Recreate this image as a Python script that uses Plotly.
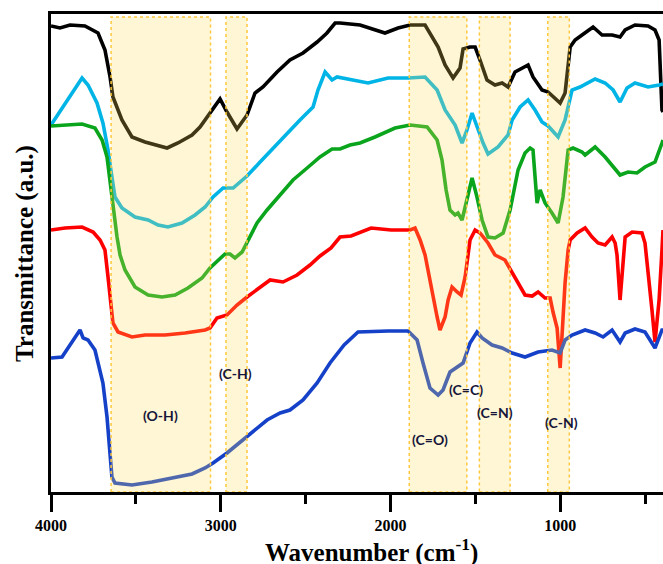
import plotly.graph_objects as go

# ---- data (wavenumber in cm-1, transmittance in arbitrary units) ----
black_wn = [4000, 3947, 3888, 3800, 3723, 3682, 3652, 3635, 3582, 3523, 3446, 3387, 3316, 3252, 3169, 3122,
            3063, 3004, 2963, 2904, 2845, 2798, 2751, 2668, 2592, 2515, 2432, 2374, 2326, 2297, 2179, 2032,
            1955, 1884, 1796, 1719, 1678, 1631, 1590, 1572, 1531, 1501, 1472, 1431, 1384, 1342, 1307, 1266,
            1189, 1160, 1107, 1071, 1000, 971, 941, 912, 871, 806, 753, 694, 647, 617, 559, 482, 441, 417,
            400, 394]
black_t = [466, 464, 467, 466, 459, 442, 415, 395, 372, 355, 350, 347, 344, 349, 357, 365,
           379, 393, 380, 363, 377, 399, 405, 420, 432, 439, 450, 459, 469, 469, 467, 459,
           464, 467, 467, 445, 427, 414, 424, 443, 445, 445, 432, 412, 407, 409, 405, 420,
           427, 415, 402, 400, 389, 399, 445, 452, 457, 465, 457, 457, 455, 462, 467, 466, 462, 452,
           382, 380]

cyan_wn = [4000, 3917, 3870, 3817, 3782, 3729, 3694, 3664, 3641, 3623, 3582, 3505, 3428, 3369, 3311, 3228,
           3151, 3092, 3045, 2986, 2927, 2845, 2768, 2692, 2609, 2533, 2456, 2427, 2385, 2344, 2315, 2256,
           2179, 2132, 2014, 1896, 1796, 1725, 1678, 1619, 1578, 1549, 1519, 1490, 1454, 1425, 1366, 1307,
           1283, 1236, 1189, 1148, 1107, 1071, 1012, 971, 930, 883, 794, 735, 688, 647, 606, 559, 482, 417, 394]
cyan_t = [367, 389, 400, 414, 407, 389, 369, 342, 315, 295, 284, 275, 272, 267, 265, 269,
          277, 285, 295, 304, 304, 316, 330, 344, 359, 372, 385, 402, 420, 412, 415, 413,
          411, 409, 414, 414, 415, 402, 382, 367, 349, 362, 379, 365, 349, 338, 345, 357,
          372, 385, 392, 382, 370, 366, 355, 372, 402, 405, 413, 409, 402, 390, 404, 409, 405, 407, 408]

green_wn = [4000, 3917, 3817, 3741, 3699, 3670, 3652, 3635, 3611, 3593, 3564, 3505, 3428, 3346, 3269, 3193,
            3110, 3063, 2975, 2945, 2916, 2874, 2845, 2786, 2727, 2650, 2574, 2491, 2415, 2344, 2297, 2238,
            2179, 2091, 1973, 1884, 1784, 1725, 1696, 1672, 1649, 1619, 1602, 1578, 1549, 1519, 1490, 1460,
            1425, 1384, 1336, 1295, 1283, 1248, 1207, 1177, 1160, 1136, 1118, 1089, 1048, 1012, 983, 953,
            924, 871, 853, 794, 735, 694, 647, 600, 547, 500, 441, 400, 394]
green_t = [366, 367, 368, 364, 352, 335, 309, 282, 255, 237, 222, 205, 197, 195, 197, 204,
           214, 224, 238, 238, 234, 240, 249, 269, 282, 297, 312, 324, 335, 343, 343, 347,
           349, 355, 364, 367, 365, 352, 332, 302, 282, 277, 279, 272, 292, 314, 295, 272,
           255, 254, 259, 282, 292, 322, 339, 344, 342, 289, 302, 289, 279, 269, 295, 342,
           344, 340, 337, 345, 335, 327, 317, 320, 319, 325, 330, 349, 352]

red_wn = [4000, 3917, 3817, 3752, 3711, 3682, 3664, 3646, 3635, 3605, 3523, 3446, 3328, 3210, 3092, 3063,
          3022, 2963, 2904, 2845, 2786, 2709, 2633, 2550, 2474, 2415, 2350, 2297, 2232, 2114, 1996, 1884,
          1855, 1825, 1796, 1755, 1725, 1708, 1678, 1660, 1637, 1607, 1584, 1560, 1531, 1501, 1472, 1425,
          1384, 1325, 1283, 1248, 1207, 1165, 1130, 1089, 1059, 1042, 1018, 1000, 989, 971, 953, 941,
          900, 853, 812, 777, 735, 694, 676, 665, 647, 629, 617, 576, 518, 500, 482, 459, 441, 417, 400, 394]
red_t = [262, 264, 265, 260, 252, 242, 215, 189, 169, 160, 155, 157, 157, 159, 162, 164,
         174, 177, 187, 195, 202, 212, 210, 217, 227, 236, 244, 255, 256, 264, 262, 262,
         264, 252, 237, 199, 175, 162, 175, 192, 205, 200, 197, 215, 252, 262, 259, 249,
         237, 232, 220, 209, 197, 196, 200, 194, 194, 180, 164, 124, 159, 209, 242, 252,
         259, 264, 255, 249, 247, 255, 249, 237, 192, 232, 255, 260, 259, 249, 222, 182, 150, 192, 242, 262]

blue_wn = [4000, 3935, 3888, 3847, 3829, 3811, 3782, 3741, 3723, 3694, 3670, 3652, 3641, 3623, 3523, 3405,
           3287, 3169, 3092, 3045, 2963, 2845, 2727, 2650, 2592, 2515, 2432, 2356, 2273, 2191, 2097, 2014,
           1896, 1843, 1808, 1767, 1719, 1690, 1649, 1607, 1572, 1531, 1490, 1460, 1401, 1342, 1283, 1207,
           1130, 1048, 1000, 971, 930, 853, 794, 747, 694, 647, 617, 559, 500, 441, 400, 394]
blue_t = [134, 135, 147, 157, 162, 154, 152, 142, 130, 109, 75, 35, 15, 9, 7, 10,
          14, 18, 24, 29, 39, 55, 72, 79, 82, 92, 109, 129, 147, 160, 161, 161,
          161, 152, 129, 104, 97, 102, 120, 125, 129, 149, 160, 154, 147, 144, 139, 135,
          140, 142, 139, 152, 157, 162, 159, 155, 162, 150, 159, 163, 160, 144, 162, 162]

bands = [("(O-H)", 3646, 3060, 3352, 77),
         ("(C-H)", 2969, 2845, 2910, 119),
         ("(C=O)", 1889, 1550, 1767, 53),
         ("(C=N)", 1476, 1295, 1384, 80),
         ("(C-N)", 1073, 946, 994, 70)]
extra_labels = [("(C=C)", 1554, 103)]

x_ticks = [4000, 3000, 2000, 1000]
x_minor = [3500, 2500, 1500, 500]

series = [(black_wn, black_t, "#000000"),
          (cyan_wn, cyan_t, "#00B4E6"),
          (green_wn, green_t, "#0AA51C"),
          (red_wn, red_t, "#FF0000"),
          (blue_wn, blue_t, "#1541C8")]

fig = go.Figure()
for wn, t, c in series:
    fig.add_trace(go.Scatter(x=wn, y=t, mode="lines",
                             line=dict(color=c, width=3.6), showlegend=False))

label_font = dict(family="Lato", size=14, color="#15153A", weight="bold")
for name, x0, x1, lx, ly in bands:
    fig.add_shape(type="rect", xref="x", yref="y", x0=x0, x1=x1, y0=0, y1=475,
                  fillcolor="rgba(255,219,87,0.25)",
                  line=dict(color="rgb(255,200,60)", width=1.5, dash="dot"),
                  layer="above")
    fig.add_annotation(x=lx, y=ly, xref="x", yref="y", text=name, showarrow=False,
                       font=label_font)
for name, lx, ly in extra_labels:
    fig.add_annotation(x=lx, y=ly, xref="x", yref="y", text=name, showarrow=False,
                       font=label_font)

fig.add_annotation(x=0.523, y=-0.1234, xref="paper", yref="paper",
                   xanchor="center", yanchor="middle",
                   text="Wavenumber (cm<sup>-1</sup>)", showarrow=False,
                   font=dict(family="Liberation Serif", size=25, color="black", weight="bold"))
fig.add_annotation(x=-0.0425, y=0.5, xref="paper", yref="paper",
                   xanchor="center", yanchor="middle",
                   text="Transmittance (a.u.)", showarrow=False, textangle=-90,
                   font=dict(family="Liberation Serif", size=25, color="black", weight="bold"))

fig.update_layout(
    width=663, height=564,
    margin=dict(l=51, r=0, t=14, b=72),
    paper_bgcolor="white", plot_bgcolor="white",
    xaxis=dict(range=[4000, 394], tickmode="array", tickvals=x_ticks,
               ticktext=[str(v) for v in x_ticks],
               ticks="outside", ticklen=17, tickwidth=3, tickcolor="black",
               showline=True, linewidth=3, linecolor="black", mirror=True,
               showgrid=False, zeroline=False,
               tickfont=dict(family="Liberation Serif", size=16, color="black", weight="bold"),
               minor=dict(tickmode="array", tickvals=x_minor, ticks="outside", ticklen=9,
                          tickwidth=3, tickcolor="black", showgrid=False)),
    yaxis=dict(range=[0, 478], showticklabels=False, ticks="",
               showline=True, linewidth=3, linecolor="black", mirror=False,
               showgrid=False, zeroline=False),
)

fig.write_html("out.html", post_script="document.body.style.margin='0';",
               config={"displayModeBar": False})
